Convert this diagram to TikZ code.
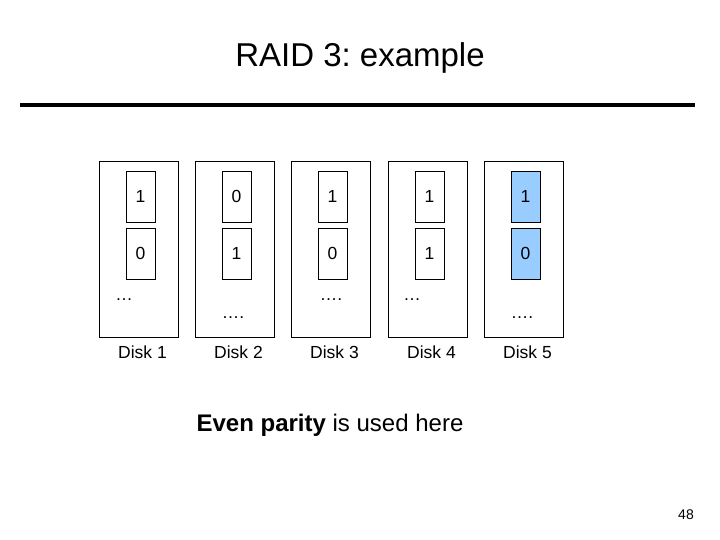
\documentclass[tikz,border=0pt]{standalone}
\usepackage{fontspec}
\setmainfont{Liberation Sans}
\frenchspacing
\definecolor{parblue}{HTML}{99CCFF}
\begin{document}
\begin{tikzpicture}[x=1pt,y=-1pt,
  disk/.style={draw,line width=0.9pt,minimum width=79pt,minimum height=176pt,inner sep=0pt},
  bit/.style={draw,line width=0.9pt,minimum width=29pt,minimum height=51pt,inner sep=0pt,font=\fontsize{17.5}{20}\selectfont},
  lbl/.style={font=\fontsize{17.5}{20}\selectfont},
  dots/.style={font=\fontsize{17.5}{20}\selectfont}]
\useasboundingbox (0,0) rectangle (720,540);
\node[font=\fontsize{33}{38}\selectfont] (title) at (360,58) {RAID 3: example};
\coordinate (l1) at (20,105); \coordinate (l2) at (695,105);
\draw[line width=4pt] (l1) -- (l2);
\foreach \i/\x/\a/\b/\f in {1/138.5/1/0/white,2/234.5/0/1/white,3/330.5/1/0/white,4/427.5/1/1/white,5/523.5/1/0/parblue}{
  \node[disk] (d\i) at (\x,249) {};
  \node[bit,fill=\f] (t\i) at (\x+2,196.5) {\a};
  \node[bit,fill=\f] (u\i) at (\x+2,253.5) {\b};
  \node[lbl] (n\i) at (\x+4,352) {Disk \i};
}
\node[dots] (e1) at (124,300) {\ldots};
\node[dots] (e2) at (233,318) {\ldots.};
\node[dots] (e3) at (331,300) {\ldots.};
\node[dots] (e4) at (412,300) {\ldots};
\node[dots] (e5) at (522,318) {\ldots.};
\node[font=\fontsize{24}{28}\selectfont] (par) at (330,425) {\textbf{Even parity} is used here};
\node[font=\fontsize{14}{16}\selectfont] (pg) at (686,515) {48};
\end{tikzpicture}
\end{document}
